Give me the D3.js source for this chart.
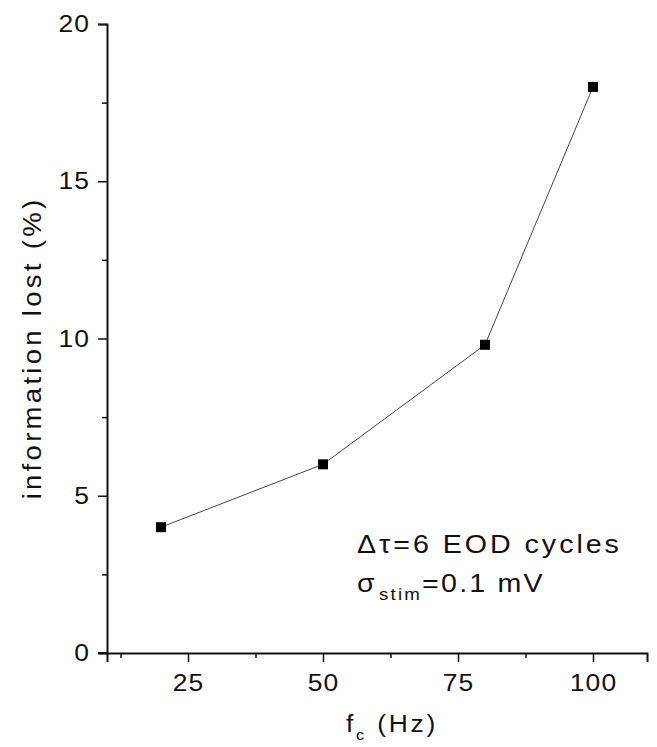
<!DOCTYPE html>
<html>
<head>
<meta charset="utf-8">
<script src="https://cdn.jsdelivr.net/npm/d3@7"></script>
<style>
  body { margin: 0; background: #fff; }
  svg text { font-family: "Liberation Sans", Arial, sans-serif; fill: #111; }
</style>
</head>
<body>
<div id="chart"></div>
<script>
// data
var freq = [20, 50, 80, 100];          // f_c (Hz)
var lost = [4.0, 6.0, 9.8, 18.0];      // information lost (%)
var xTicks = [25, 50, 75, 100];
var xMinor = [12.5, 37.5, 62.5, 87.5];
var yTicks = [0, 5, 10, 15, 20];
var yMinor = [2.5, 7.5, 12.5, 17.5];

var width = 657, height = 747;
var margin = {top: 24, right: 10, bottom: 94, left: 107};

var svg = d3.select("#chart")
  .append("svg")
    .attr("width", width)
    .attr("height", height);

var x = d3.scaleLinear()
    .domain([10, 110])
    .range([margin.left, width - margin.right]);

var y = d3.scaleLinear()
    .domain([0, 20])
    .range([height - margin.bottom, margin.top]);

// x axis: major + minor ticks
var gx = svg.append("g")
    .attr("transform", "translate(0," + y(0) + ")");
gx.call(d3.axisBottom(x).tickValues(xTicks).tickSize(9).tickPadding(12));
gx.append("g").call(d3.axisBottom(x)
    .tickValues(xMinor)
    .tickSize(5).tickFormat(""))
  .select(".domain").remove();

// y axis
var gy = svg.append("g")
    .attr("transform", "translate(" + x(10) + ",0)");
gy.call(d3.axisLeft(y).tickValues(yTicks).tickSize(9).tickPadding(10));
gy.append("g").call(d3.axisLeft(y)
    .tickValues(yMinor)
    .tickSize(5).tickFormat(""))
  .select(".domain").remove();

svg.selectAll(".domain")
    .attr("stroke", "#111")
    .attr("stroke-width", 2);
svg.selectAll(".tick line")
    .attr("stroke", "#111")
    .attr("stroke-width", 1.5);

// tick labels: slightly wide lettering like the scan
gx.selectAll(".tick text")
    .style("font-size", "24px")
    .style("letter-spacing", "1px")
    .attr("fill", "#111")
    .attr("transform", "scale(1.1,1)");
gy.selectAll(".tick text")
    .style("font-size", "24px")
    .style("letter-spacing", "1px")
    .attr("fill", "#111")
    .attr("transform", "translate(-17,0) scale(1.1,1)")
    .attr("x", 0);

// x axis extends a bit left of y axis like original
svg.append("line")
    .attr("x1", x(10) - 9).attr("x2", x(10))
    .attr("y1", y(0)).attr("y2", y(0))
    .attr("stroke", "#111").attr("stroke-width", 2);

// line + markers
var pts = freq.map(function(f, i) { return {x: f, y: lost[i]}; });

svg.append("path")
    .datum(pts)
    .attr("fill", "none")
    .attr("stroke", "#444")
    .attr("stroke-width", 1)
    .attr("d", d3.line()
        .x(function(d) { return x(d.x); })
        .y(function(d) { return y(d.y); }));

svg.selectAll("rect.pt")
    .data(pts)
    .enter()
    .append("rect")
    .attr("class", "pt")
    .attr("x", function(d) { return x(d.x) - 5; })
    .attr("y", function(d) { return y(d.y) - 5; })
    .attr("width", 10)
    .attr("height", 10)
    .attr("fill", "#000");

// axis labels
var xl = svg.append("text")
    .attr("transform", "translate(392,732) scale(1.1,1)")
    .attr("text-anchor", "middle")
    .style("font-size", "24px")
    .style("letter-spacing", "2.5px");
xl.append("tspan").text("f");
xl.append("tspan").attr("dy", 8).style("font-size", "15px").text("c");
xl.append("tspan").attr("dy", -8).text(" (Hz)");

svg.append("text")
    .attr("transform", "translate(41,348) rotate(-90) scale(1.1,1)")
    .attr("text-anchor", "middle")
    .style("font-size", "25px")
    .style("letter-spacing", "3px")
    .text("information lost (%)");

// annotation
var note = svg.append("g")
    .attr("transform", "translate(357,0) scale(1.1,1)");

note.append("text")
    .attr("x", 0)
    .attr("y", 553)
    .style("font-size", "26px")
    .style("letter-spacing", "2.7px")
    .text("\u0394\u03c4=6 EOD cycles");

var s = note.append("text")
    .attr("x", 0)
    .attr("y", 592)
    .style("font-size", "26px")
    .style("letter-spacing", "2px");
s.append("tspan").text("\u03c3");
s.append("tspan").attr("dy", 8).attr("dx", 2).style("font-size", "17px").text("stim");
s.append("tspan").attr("dy", -8).text("=0.1 mV");
</script>
</body>
</html>
